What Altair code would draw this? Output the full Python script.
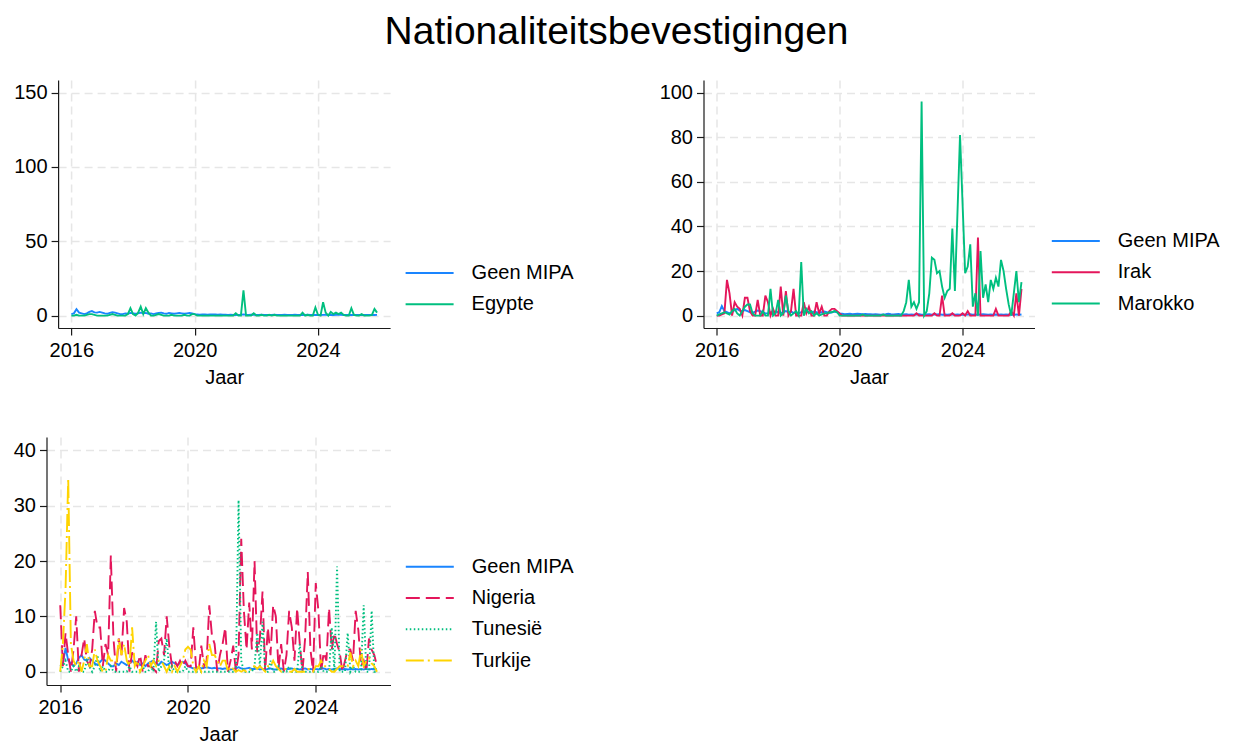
import altair as alt
import pandas as pd

FONT = "Liberation Sans"

months = [2016 + i / 12 for i in range(120)]

geen_mipa = [
    1.0, 1.5, 4.3, 2.0, 1.5, 1.0, 1.5, 2.5, 3.0, 2.2, 2.0, 2.5,
    2.0, 1.5, 1.2, 1.8, 2.3, 2.0, 1.5, 1.0, 1.0, 1.5, 1.2, 1.8,
    1.5, 1.2, 1.5, 2.0, 1.5, 1.8, 1.2, 1.5, 1.0, 1.5, 1.8, 2.0,
    1.5, 1.2, 1.8, 1.5, 1.2, 1.5, 1.8, 1.5, 1.2, 1.5, 1.8, 1.5,
    1.0, 0.8, 0.6, 0.7, 0.8, 0.6, 0.7, 0.8, 0.7, 0.6, 0.7, 0.6,
    0.6, 0.5, 0.6, 0.5, 0.4, 0.5, 0.6, 0.8, 0.6, 0.5, 0.6, 0.7,
    0.5, 0.5, 0.6, 0.4, 0.5, 0.4, 0.5, 0.6, 0.4, 0.4, 0.5, 0.6,
    0.4, 0.5, 0.5, 0.6, 0.4, 0.5, 0.4, 0.5, 0.6, 0.4, 0.5, 0.4,
    0.5, 0.4, 0.5, 0.6, 0.4, 0.5, 0.4, 0.5, 0.6, 0.5, 0.4, 0.5,
    0.4, 0.5, 0.4, 0.5, 0.4, 0.5, 0.4, 0.5, 0.4, 0.5, 0.4, 0.5,
]

egypte = [
    0, 0, 0.5, 0, 0, 0, 0.5, 1, 1, 0.5, 0, 0,
    0, 0, 0, 0.5, 1, 0.5, 0, 0, 0, 0, 1, 5,
    1, 0, 2, 6, 1, 5, 2, 0, 0, 0.5, 1, 0.5,
    0, 0, 0, 0.5, 0, 0, 0, 0, 0.5, 0, 0, 1,
    1, 0, 0, 0, 0, 0, 0, 0, 0, 0, 0, 0,
    0, 0, 0, 0, 1.5, 0, 0, 17, 0, 0, 0, 1.5,
    0, 0, 0.5, 0, 0, 0.5, 0, 0.5, 0, 0, 0, 0,
    0, 0, 0, 0, 0, 0, 2, 0, 0.5, 0, 0, 5.5,
    0.5, 0, 9, 2, 0, 2.5, 1, 2, 1, 2, 0.5, 0,
    0, 5, 0.5, 0, 0, 1, 0, 0, 0, 0.5, 4.5, 2,
]

irak = [
    0, 0, 0.5, 1, 16, 10, 0, 6, 4, 3, 0, 8,
    8, 2, 0, 0, 7, 0, 0, 9, 6, 0, 3, 0,
    0, 13, 0, 11, 0, 2, 12, 0, 0, 0, 6, 1,
    4, 0, 0, 6, 1, 4, 0, 0, 2, 3, 3, 2,
    1, 0, 0, 0, 0, 0, 0, 0, 0, 0, 0, 0,
    0, 0, 0, 0, 0, 0, 0, 0, 0, 0, 0, 0,
    0, 0, 0, 0, 0, 0, 1, 0, 0, 0, 0, 0,
    0, 1, 0, 0, 9, 0, 0, 0, 1, 0, 0, 0,
    1, 0, 2, 0, 0, 0, 35, 0, 0, 0, 0, 0,
    0, 3, 0, 0, 0, 0, 0, 2, 0, 10, 0, 12,
]

marokko = [
    0, 0.5, 1, 1.5, 1, 0.5, 2, 3, 1, 0, 2, 4,
    5, 5, 1, 0, 0, 0, 2, 0, 0, 12, 0, 1,
    7, 0, 1, 9, 2, 0, 1, 2, 0, 24, 0, 3,
    1, 2, 0, 1, 0, 0.5, 1, 1, 1.5, 1.5, 2, 1.5,
    0, 0, 0, 0, 0, 0, 0, 0, 0, 0.5, 0, 0,
    0, 0, 0, 0, 0, 0.5, 0, 0, 0, 0, 0, 0,
    0, 2, 6, 16, 4, 6, 3, 6, 96, 0, 2, 10,
    26, 25, 19, 20, 13, 8, 11, 12, 39, 11, 46, 81,
    50, 19, 22, 32, 4, 10, 0, 29, 8, 14, 6, 16,
    12, 17, 13, 25, 20, 12, 5, 0, 10, 20, 6, 15,
]

nigeria = [
    12, 1, 7, 3, 0, 4, 10, 0, 3, 6, 2, 1,
    4, 11, 8, 8, 1, 5, 3, 21, 6, 0, 6, 3,
    11.5, 9, 0, 3.5, 2, 1, 3, 0, 3, 1, 1, 0.5,
    0, 5.5, 6, 3, 10, 4.5, 1, 2, 1, 2, 1, 2,
    1, 1, 8, 1, 0, 4.7, 1, 2, 12, 6.5, 5, 0,
    3, 5, 8, 0, 2, 4.7, 0, 3, 24, 11, 4, 12.5,
    4, 20, 3.5, 6, 14.5, 0, 8, 3, 12, 10, 0.5, 5,
    0, 3, 11, 8, 2, 11.5, 5, 0, 6, 18, 4, 0,
    16, 11, 0, 3.5, 2, 11.5, 4, 7, 5, 3.5, 0, 2,
    4, 4, 2, 11, 7.5, 1, 2, 0, 6, 4, 3, 1,
]

tunesie = [
    0, 1, 2, 0, 0, 1, 0, 1, 0, 0, 2, 1,
    0, 1, 3, 0, 1, 0, 0, 1, 0, 0, 0, 0,
    0, 0, 1, 0, 0, 0, 0, 1, 0, 0, 1, 0,
    9, 0, 1, 2, 6, 0, 1, 0, 0, 0, 0, 1,
    0, 0, 0, 0, 0, 0, 0, 0, 0, 0, 0, 0,
    0, 0, 0, 0, 0, 0, 0, 31, 2, 0, 0, 0,
    0, 1, 7, 1, 9, 0, 0, 2, 0, 0, 1, 0,
    0, 0, 1, 0, 0, 0, 5, 0, 0, 0, 0, 0,
    0, 0, 1, 0, 0, 0, 8, 0, 19, 0, 0, 0,
    7, 0, 1, 0, 0, 0, 12, 0, 0, 11, 0, 0,
]

turkije = [
    0, 5, 15, 35, 5, 2, 1, 2, 0, 2, 5, 1,
    1, 4, 2, 1, 0, 0, 3, 2, 2, 1, 6, 3,
    5, 2, 1, 8, 1, 2, 0, 1, 2, 3, 1, 2,
    1, 2, 2, 1, 0, 1, 0, 1, 0, 1, 2, 4,
    4.5, 4, 1, 0, 1, 0, 2, 1, 5, 3, 3, 2,
    1, 2, 2, 0, 1, 0.5, 0, 0.3, 0, 0.3, 0, 0,
    1, 1, 0.5, 1, 0.5, 0, 1, 1, 2, 1, 0.5, 0,
    0.5, 0.5, 0, 0, 0.5, 0, 0, 0, 0, 0.5, 0.5, 0,
    1, 1, 2, 1, 1, 0.5, 0, 0, 0.5, 1, 1, 1,
    1, 3.5, 1, 2, 1, 4, 1, 2, 2.5, 1.5, 1, 0,
]

BLUE = "#1a85ff"
PINK = "#e4165b"
GREEN = "#00bf7f"
YELLOW = "#ffd400"

X_DOMAIN = [2015.57, 2026.34]
X_TICKS = [2016, 2020, 2024]


def panel(names, series, colors, dashes, ydomain, yticks, width, height, lx, ly):
    legend = alt.Legend(
        orient="none", legendX=lx, legendY=ly, symbolType="stroke",
        symbolSize=2304, symbolStrokeWidth=2, labelFontSize=20, labelFont=FONT,
        labelColor="black", labelOffset=17, rowPadding=11.3, padding=0,
        clipHeight=20, labelLimit=300,
    )
    layers = []
    for name, vals in zip(names, series):
        df = pd.DataFrame({"Jaar": months, "waarde": vals, "serie": name})
        enc = dict(
            x=alt.X("Jaar:Q", scale=alt.Scale(domain=X_DOMAIN, nice=False, zero=False),
                    axis=alt.Axis(values=X_TICKS, format="d"), title="Jaar"),
            y=alt.Y("waarde:Q", scale=alt.Scale(domain=ydomain, nice=False, zero=False),
                    axis=alt.Axis(values=yticks), title=None),
            color=alt.Color("serie:N", scale=alt.Scale(domain=names, range=colors),
                            legend=legend, title=None),
        )
        if dashes is not None:
            enc["strokeDash"] = alt.StrokeDash(
                "serie:N", scale=alt.Scale(domain=names, range=dashes),
                legend=legend, title=None)
        layers.append(alt.Chart(df).mark_line(strokeWidth=1.9).encode(**enc))
    return alt.layer(*layers).properties(width=width, height=height)


p1 = panel(["Geen MIPA", "Egypte"], [geen_mipa, egypte], [BLUE, GREEN], None,
           [-8.35, 158.5], [0, 50, 100, 150], 332, 248, 346.5, 183)
p2 = panel(["Geen MIPA", "Irak", "Marokko"], [geen_mipa, irak, marokko],
           [BLUE, PINK, GREEN], None,
           [-5.57, 105.7], [0, 20, 40, 60, 80, 100], 331, 248, 347.3, 151)
p3 = panel(["Geen MIPA", "Nigeria", "Tunesië", "Turkije"],
           [geen_mipa, nigeria, tunesie, turkije],
           [BLUE, PINK, GREEN, YELLOW],
           [[1, 0], [14, 6], [1.5, 2.5], [18, 4, 2, 4]],
           [-2.4, 42.4], [0, 10, 20, 30, 40], 344, 248, 358.3, 119.7)

# an empty, invisible cell used only to shift the first panel to the right
spacer = alt.Chart(pd.DataFrame({"v": [0]})).mark_text(
    text="", baseline="top", align="left", fontSize=1
).encode(x=alt.value(0), y=alt.value(0)).properties(width=1, height=1)

inner = alt.hconcat(spacer, p1, spacing=-34.4).resolve_scale(color="independent")
row1 = alt.hconcat(inner, p2, spacing=84).resolve_scale(color="independent")
chart = alt.vconcat(row1, p3, spacing=50).resolve_scale(
    color="independent", strokeDash="independent"
).properties(
    title=alt.TitleParams("Nationaliteitsbevestigingen", fontSize=39, font=FONT,
                          fontWeight="normal", color="black", anchor="middle",
                          offset=28),
    padding={"left": 4.5, "top": 5, "right": 4, "bottom": 2},
    background="white",
).configure_view(strokeWidth=0).configure_axis(
    labelFont=FONT, labelFontSize=20, labelColor="black",
    titleFont=FONT, titleFontSize=20, titleFontWeight="normal", titleColor="black",
    domainColor="#1a1a1a", tickColor="#1a1a1a", domainWidth=1.2, tickWidth=1.2,
    tickSize=7, labelPadding=4, titlePadding=10,
    gridColor="#e6e6e6", gridDash=[8, 5], gridWidth=1.5,
).configure_axisX(labelPadding=5, titlePadding=7)

chart.save("out.html", embed_options={"renderer": "svg", "actions": False})
